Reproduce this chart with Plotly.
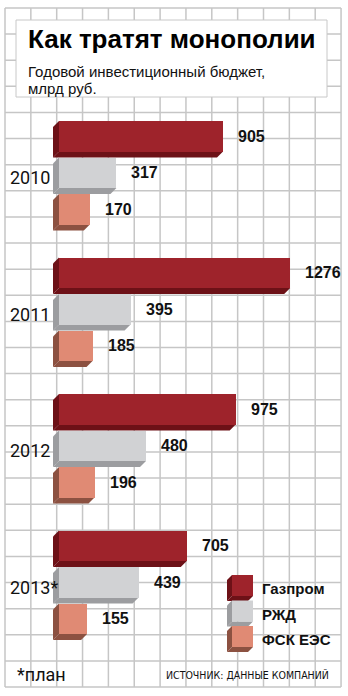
import plotly.graph_objects as go

# ---------------- data ----------------
years = ["2010", "2011", "2012", "2013*"]
companies = ["Газпром", "РЖД", "ФСК ЕЭС"]
gazprom = [905, 1276, 975, 705]
rzd = [317, 395, 480, 439]
fsk = [170, 185, 196, 155]

title = "Как тратят монополии"
subtitle1 = "Годовой инвестиционный бюджет,"
subtitle2 = "млрд руб."
footnote = "*план"
source = "ИСТОЧНИК: ДАННЫЕ КОМПАНИЙ"

# ---------------- style / layout ----------------
W, H = 348, 696
PX0 = 59.0          # pixel column of value 0
S = 0.1812          # pixels per unit
HF = 30.5           # bar front height (px)
DX, DY = 6.0, 6.0   # 3D depth (px)
TOP0 = 121.0
BAR_PITCH = 36.5
GROUP_PITCH = 136.5

front = ["#9e232b", "#d1d2d4", "#e08a74"]
dark = ["#6d1117", "#9c9da0", "#8c5141"]
GRID = "#c6c6c6"

NARROW = "'DejaVu Sans Condensed', 'DejaVu Sans', sans-serif"
ROBO = "Roboto, 'Liberation Sans', sans-serif"
SANS = "'Liberation Sans', Arial, sans-serif"


def vx(px):
    return (px - PX0) / S


series = [gazprom, rzd, fsk]
shapes = []
annotations = []

# grid
for i in range(14):
    X = 5 + i * 25.85
    shapes.append(dict(type="line", xref="x", yref="y", x0=vx(X), x1=vx(X), y0=8, y1=687,
                       line=dict(color=GRID, width=1.5), layer="below"))
for j in range(27):
    Y = 8 + j * 26.115
    shapes.append(dict(type="line", xref="x", yref="y", x0=vx(5), x1=vx(341), y0=Y, y1=Y,
                       line=dict(color=GRID, width=1.5), layer="below"))

# title box
shapes.append(dict(type="rect", xref="x", yref="y", x0=vx(16), x1=vx(327), y0=20, y1=97,
                   fillcolor="white", line=dict(color="#c8c8c8", width=1), layer="below"))


def poly(points, color):
    path = "M " + " L ".join(f"{x:.3f},{y:.3f}" for x, y in points) + " Z"
    return dict(type="path", path=path, xref="x", yref="y", fillcolor=color,
                line=dict(width=0), layer="below")


dxv = DX / S
fig = go.Figure()
for s, (name, vals) in enumerate(zip(companies, series)):
    tops = [TOP0 + g * GROUP_PITCH + s * BAR_PITCH for g in range(len(years))]
    centers = [t + HF / 2 for t in tops]
    for v, t in zip(vals, tops):
        shapes.append(poly([(0, t), (-dxv, t + DY), (-dxv, t + HF + DY), (0, t + HF)], dark[s]))
        shapes.append(poly([(0, t + HF), (v, t + HF), (v - dxv, t + HF + DY), (-dxv, t + HF + DY)], dark[s]))
    fig.add_trace(go.Bar(
        x=vals, y=centers, base=0, orientation="h", width=HF, name=name,
        marker=dict(color=front[s], line=dict(width=0)), showlegend=False,
        hoverinfo="skip",
    ))
    for v, c in zip(vals, centers):
        annotations.append(dict(x=v, y=c, xref="x", yref="y", text=f"<b>{v}</b>",
                                showarrow=False, xanchor="left", yanchor="middle", xshift=13,
                                font=dict(family=SANS, size=16, color="#111")))

# year labels
for g, yr in enumerate(years):
    c = TOP0 + g * GROUP_PITCH + BAR_PITCH + HF / 2 + 5
    annotations.append(dict(x=vx(8), y=c, xref="x", yref="y", text=yr, showarrow=False,
                            xanchor="left", yanchor="middle",
                            font=dict(family=ROBO, size=18, color="#111")))

# legend cubes
LX0, LX1 = 232, 253
LF, LD = 21, 5
for s, name in enumerate(companies):
    t = 575 + s * 25.5
    x0, x1 = vx(LX0), vx(LX1)
    ld = LD / S
    shapes.append(poly([(x0, t), (x0 - ld, t + LD), (x0 - ld, t + LF + LD), (x0, t + LF)], dark[s]))
    shapes.append(poly([(x0, t + LF), (x1, t + LF), (x1 - ld, t + LF + LD), (x0 - ld, t + LF + LD)], dark[s]))
    shapes.append(dict(type="rect", xref="x", yref="y", x0=x0, x1=x1, y0=t, y1=t + LF,
                       fillcolor=front[s], line=dict(width=0), layer="below"))
    annotations.append(dict(x=vx(260), y=t + LF / 2 + 3, xref="x", yref="y", text=f"<b>{name}</b>",
                            showarrow=False, xanchor="left", yanchor="middle",
                            font=dict(family=SANS, size=15, color="#111")))

# title texts
annotations.append(dict(x=vx(26), y=39, xref="x", yref="y", text=f"<b>{title}</b>", showarrow=False,
                        xanchor="left", yanchor="middle",
                        font=dict(family=SANS, size=26, color="#000")))
annotations.append(dict(x=vx(26), y=71, xref="x", yref="y", text=subtitle1, showarrow=False,
                        xanchor="left", yanchor="middle",
                        font=dict(family=SANS, size=15, color="#111")))
annotations.append(dict(x=vx(26), y=88, xref="x", yref="y", text=subtitle2, showarrow=False,
                        xanchor="left", yanchor="middle",
                        font=dict(family=SANS, size=15, color="#111")))

# footer
annotations.append(dict(x=vx(15), y=674, xref="x", yref="y", text=footnote, showarrow=False,
                        xanchor="left", yanchor="middle",
                        font=dict(family=ROBO, size=18, color="#111")))
annotations.append(dict(x=vx(331), y=675, xref="x", yref="y", text=source, showarrow=False,
                        xanchor="right", yanchor="middle",
                        font=dict(family=NARROW, size=10.5, color="#111")))

fig.update_layout(
    width=W, height=H, margin=dict(l=0, r=0, t=0, b=0),
    paper_bgcolor="white", plot_bgcolor="rgba(0,0,0,0)",
    barmode="overlay", bargap=0,
    xaxis=dict(range=[vx(0), vx(W)], visible=False, fixedrange=True, domain=[0, 1]),
    yaxis=dict(range=[H, 0], visible=False, fixedrange=True, domain=[0, 1]),
    shapes=shapes, annotations=annotations, showlegend=False,
)

fig.write_html("out.html")
